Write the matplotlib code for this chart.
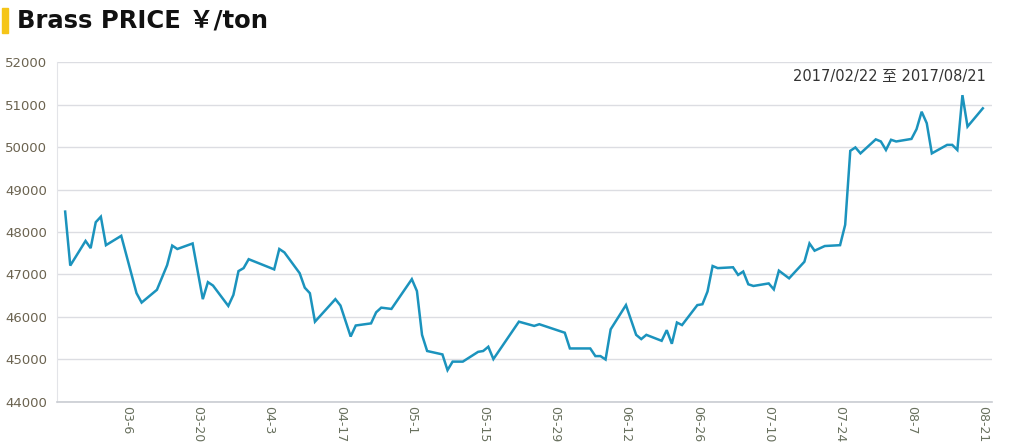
import matplotlib
matplotlib.use("Agg")
import matplotlib.pyplot as plt
import matplotlib.dates as mdates
import numpy as np
import datetime as dt

# ---- data ----
dates = ["2017-02-22", "2017-02-23", "2017-02-26", "2017-02-27", "2017-02-28", "2017-03-01",
         "2017-03-02", "2017-03-05", "2017-03-08", "2017-03-09", "2017-03-12", "2017-03-14",
         "2017-03-15", "2017-03-16", "2017-03-19", "2017-03-21", "2017-03-22", "2017-03-23",
         "2017-03-26", "2017-03-27", "2017-03-28", "2017-03-29", "2017-03-30", "2017-04-04",
         "2017-04-05", "2017-04-06", "2017-04-09", "2017-04-10", "2017-04-11", "2017-04-12",
         "2017-04-16", "2017-04-17", "2017-04-19", "2017-04-20", "2017-04-23", "2017-04-24",
         "2017-04-25", "2017-04-27", "2017-05-01", "2017-05-02", "2017-05-03", "2017-05-04",
         "2017-05-07", "2017-05-08", "2017-05-09", "2017-05-11", "2017-05-14", "2017-05-15",
         "2017-05-16", "2017-05-17", "2017-05-22", "2017-05-25", "2017-05-26", "2017-05-31",
         "2017-06-01", "2017-06-05", "2017-06-06", "2017-06-07", "2017-06-08", "2017-06-09",
         "2017-06-12", "2017-06-14", "2017-06-15", "2017-06-16", "2017-06-19", "2017-06-20",
         "2017-06-21", "2017-06-22", "2017-06-23", "2017-06-26", "2017-06-27", "2017-06-28",
         "2017-06-29", "2017-06-30", "2017-07-03", "2017-07-04", "2017-07-05", "2017-07-06",
         "2017-07-07", "2017-07-10", "2017-07-11", "2017-07-12", "2017-07-14", "2017-07-17",
         "2017-07-18", "2017-07-19", "2017-07-21", "2017-07-24", "2017-07-25", "2017-07-26",
         "2017-07-27", "2017-07-28", "2017-07-31", "2017-08-01", "2017-08-02", "2017-08-03",
         "2017-08-04", "2017-08-07", "2017-08-08", "2017-08-09", "2017-08-10", "2017-08-11",
         "2017-08-14", "2017-08-15", "2017-08-16", "2017-08-17", "2017-08-18", "2017-08-21"]
prices = [48480, 47210, 47790, 47620, 48230, 48360,
          47690, 47910, 46560, 46340, 46640, 47220,
          47680, 47600, 47730, 46420, 46820, 46740,
          46260, 46520, 47080, 47150, 47360, 47120,
          47600, 47520, 47030, 46690, 46560, 45890,
          46420, 46270, 45540, 45800, 45850, 46110,
          46220, 46190, 46890, 46610, 45580, 45200,
          45120, 44750, 44950, 44950, 45180, 45200,
          45300, 45010, 45890, 45790, 45830, 45630,
          45260, 45260, 45080, 45080, 45000, 45710,
          46280, 45580, 45480, 45580, 45440, 45690,
          45370, 45870, 45810, 46280, 46300, 46600,
          47200, 47150, 47170, 46990, 47070, 46770,
          46730, 46790, 46650, 47090, 46910, 47300,
          47730, 47560, 47670, 47690, 48170, 49910,
          49990, 49850, 50180, 50130, 49930, 50170,
          50130, 50190, 50420, 50830, 50560, 49850,
          50050, 50050, 49930, 51220, 50480, 50910]
tick_dates = ["2017-03-06", "2017-03-20", "2017-04-03", "2017-04-17", "2017-05-01", "2017-05-15",
              "2017-05-29", "2017-06-12", "2017-06-26", "2017-07-10", "2017-07-24", "2017-08-07",
              "2017-08-21"]
tick_labels = ["03-6", "03-20", "04-3", "04-17", "05-1", "05-15", "05-29", "06-12", "06-26",
               "07-10", "07-24", "08-7", "08-21"]
y_ticks = [44000, 45000, 46000, 47000, 48000, 49000, 50000, 51000, 52000]
title = "Brass PRICE ￥/ton"
range_text = "2017/02/22 至 2017/08/21"

# ---- plot ----
W, H = 1018, 448
fig = plt.figure(figsize=(W / 100, H / 100), dpi=100)
fig.patch.set_facecolor("white")
ax = fig.add_axes([57 / W, 1 - 402 / H, (992 - 57) / W, (402 - 62) / H])

x = [dt.datetime.strptime(d, "%Y-%m-%d") for d in dates]
ax.plot(x, prices, color="#1b93bd", lw=1.8, solid_joinstyle="miter")

start = dt.datetime(2017, 2, 22)
ax.set_xlim(start - dt.timedelta(days=1.6), start + dt.timedelta(days=181.8))
ax.set_ylim(44000, 52000)
ax.set_yticks(y_ticks)
ax.set_yticklabels([str(v) for v in y_ticks])
ax.set_xticks([dt.datetime.strptime(d, "%Y-%m-%d") for d in tick_dates])
ax.set_xticklabels(tick_labels, rotation=-90, va="top", ha="center")

ax.grid(axis="y", color="#dcdde2", lw=1)
ax.set_axisbelow(True)
for s in ["top", "right"]:
    ax.spines[s].set_visible(False)
ax.spines["left"].set_color("#e3e4e8")
ax.spines["bottom"].set_color("#c9ccd2")
ax.spines["bottom"].set_linewidth(1.2)
ax.tick_params(axis="both", length=0)
ax.tick_params(axis="y", pad=7, labelsize=9.5, labelcolor="#6b6350")
ax.tick_params(axis="x", pad=3, labelsize=9, labelcolor="#68705e")

fig.text(17 / W, 1 - 20 / H, title, fontsize=17.5, fontweight="bold",
         family=["DejaVu Sans", "Noto Sans CJK SC"], va="center", ha="left", color="#111111")
fig.patches.append(plt.Rectangle((2 / W, 1 - 33 / H), 6 / W, 25 / H,
                                 transform=fig.transFigure, color="#f5c518"))
fig.text(986 / W, 1 - 76 / H, range_text, fontsize=10.5,
         family=["DejaVu Sans", "Noto Sans CJK SC"], va="center", ha="right", color="#333333")

fig.savefig("out.png", dpi=100)
